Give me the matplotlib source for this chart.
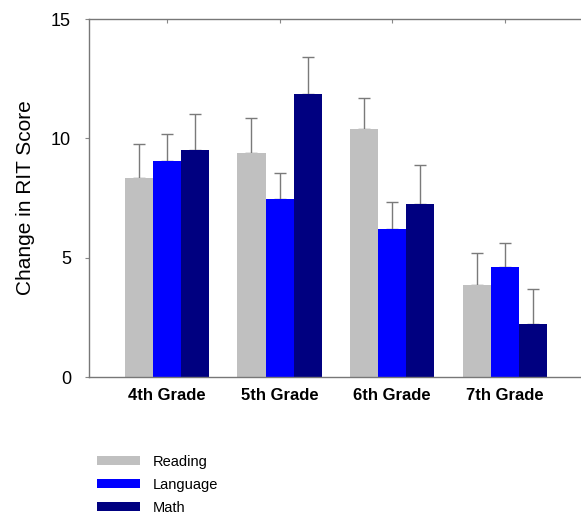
import matplotlib
matplotlib.use("Agg")
import matplotlib.pyplot as plt
import numpy as np
from matplotlib.patches import Patch

plt.rcParams['font.family'] = ['Liberation Sans', 'DejaVu Sans']

grades = ["4th Grade", "5th Grade", "6th Grade", "7th Grade"]
series = ["Reading", "Language", "Math"]
reading = [8.35, 9.4, 10.4, 3.85]
language = [9.05, 7.45, 6.2, 4.6]
math_ = [9.5, 11.85, 7.25, 2.2]
reading_err = [1.4, 1.45, 1.3, 1.35]
language_err = [1.15, 1.1, 1.15, 1.0]
math_err = [1.5, 1.55, 1.65, 1.5]
y_ticks = [0, 5, 10, 15]

colors = ["#c0c0c0", "#0000ff", "#000080"]
values = [reading, language, math_]
errors = [reading_err, language_err, math_err]

fig = plt.figure(figsize=(5.81, 5.14), dpi=100)
ax = fig.add_axes([89/581, 1-377/514, 1-89/581, (377-19)/514])

x = np.arange(len(grades))
w = 0.25
for i, (v, e, c, s) in enumerate(zip(values, errors, colors, series)):
    ax.bar(x + (i-1)*w, v, width=w, color=c, label=s, zorder=2)
    ax.errorbar(x + (i-1)*w, v, yerr=[np.zeros(len(e)), e], fmt='none',
                ecolor='#7a7a7a', elinewidth=1, capsize=4, capthick=1, zorder=1)

ax.set_xlim(-0.693, 3.676)
ax.set_ylim(0, 15)
ax.set_yticks(y_ticks)
ax.set_yticklabels([str(t) for t in y_ticks], fontsize=13)
ax.set_xticks(x)
ax.set_xticklabels(grades, fontsize=12, fontweight='bold')
ax.tick_params(axis='x', which='both', bottom=False, top=True, direction='in', length=3,
               color='#888888', pad=8)
ax.tick_params(axis='y', direction='out', length=3, color='#888888', pad=10)
ax.spines['right'].set_visible(False)
for sp in ['left', 'bottom', 'top']:
    ax.spines[sp].set_color('#777777')
    ax.spines[sp].set_linewidth(1)
ax.set_ylabel("Change in RIT Score", fontsize=15)
ax.yaxis.set_label_coords(-54/492, 0.5)

handles = [Patch(facecolor=c, edgecolor='none') for c in colors]
fig.legend(handles, series, loc='upper left', bbox_to_anchor=(97/581, 1-455/514),
           frameon=False, fontsize=10.5, handlelength=2.95, handleheight=0.6,
           handletextpad=0.85, labelspacing=0.6, borderpad=0, borderaxespad=0)

fig.savefig("out.png", dpi=100)
